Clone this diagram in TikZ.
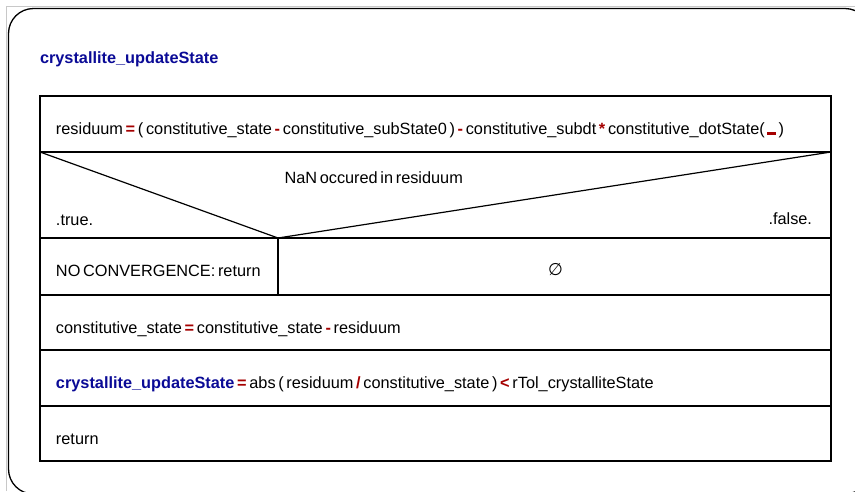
\documentclass[tikz,border=0pt]{standalone}
\usepackage{fontspec}
\setmainfont{Liberation Sans}
\newfontfamily\dejavu{DejaVu Sans}
\definecolor{kwblue}{RGB}{10,10,150}
\definecolor{opred}{RGB}{165,0,0}
\definecolor{framegrey}{RGB}{200,200,200}
\newcommand{\op}[1]{\textcolor{opred}{\textbf{#1}}}
\newcommand{\kw}[1]{\textcolor{kwblue}{\textbf{#1}}}
\newcommand{\diafont}{\fontsize{16.3}{19}\selectfont\spaceskip=2.7pt plus 1pt minus 1pt\relax}
\tikzset{
  cell/.style={draw, line width=1.2pt, anchor=north west, inner sep=0pt, outer sep=0pt},
  txt/.style={anchor=base west, inner sep=0pt, outer sep=0pt},
  ctxt/.style={anchor=base, inner sep=0pt, outer sep=0pt},
  rtxt/.style={anchor=base east, inner sep=0pt, outer sep=0pt},
  conn/.style={line width=1.2pt},
}
\begin{document}
\begin{tikzpicture}[x=1pt,y=-1pt,font=\diafont]
\useasboundingbox (0,0) rectangle (855,491);
\clip (0,0) rectangle (855,491);
% frame
\draw[framegrey, line width=0.8pt] (6.5,491) -- (6.5,6.5) -- (855,6.5);
\draw[line width=1.3pt, rounded corners=25pt] (8.5,8.5) rectangle (870,494);
% title
\node[txt] (title) at (40,63) {\kw{crystallite\_updateState}};
% cells
\node[cell, minimum width=791pt, minimum height=56pt] (row1) at (40,96) {};
\node[cell, minimum width=791pt, minimum height=86pt] (dec) at (40,152) {};
\node[cell, minimum width=238pt, minimum height=57pt] (yes) at (40,238) {};
\node[cell, minimum width=553pt, minimum height=57pt] (no) at (278,238) {};
\node[cell, minimum width=791pt, minimum height=55pt] (row3) at (40,295) {};
\node[cell, minimum width=791pt, minimum height=56pt] (row4) at (40,350) {};
\node[cell, minimum width=791pt, minimum height=55pt] (row5) at (40,406) {};
\coordinate (apex) at (278,238);
\draw[conn] (dec.north west) -- (apex) -- (dec.north east);
% texts
\node[txt] (t1) at (56,134) {residuum \op{=} ( constitutive\_state \op{-} constitutive\_subState0 ) \op{-} constitutive\_subdt \op{*} constitutive\_dotState( \textcolor{opred}{\rule[-1pt]{8.5pt}{3pt}} )};
\node[txt] (cond) at (284.5,183) {NaN occured in residuum};
\node[txt] (true) at (56,225) {.true.};
\node[rtxt] (false) at (812,224) {.false.};
\node[txt] (t2) at (56,276) {NO CONVERGENCE: return};
\node[ctxt] (empty) at (555.5,275.5) {{\dejavu\fontsize{17}{19}\selectfont ∅}};
\node[txt] (t3) at (56,333) {constitutive\_state \op{=} constitutive\_state \op{-} residuum};
\node[txt] (t4) at (56,388) {\kw{crystallite\_updateState} \op{=} abs ( residuum \op{/} constitutive\_state ) \op{<} rTol\_crystalliteState};
\node[txt] (t5) at (56,444) {return};
\end{tikzpicture}
\end{document}
